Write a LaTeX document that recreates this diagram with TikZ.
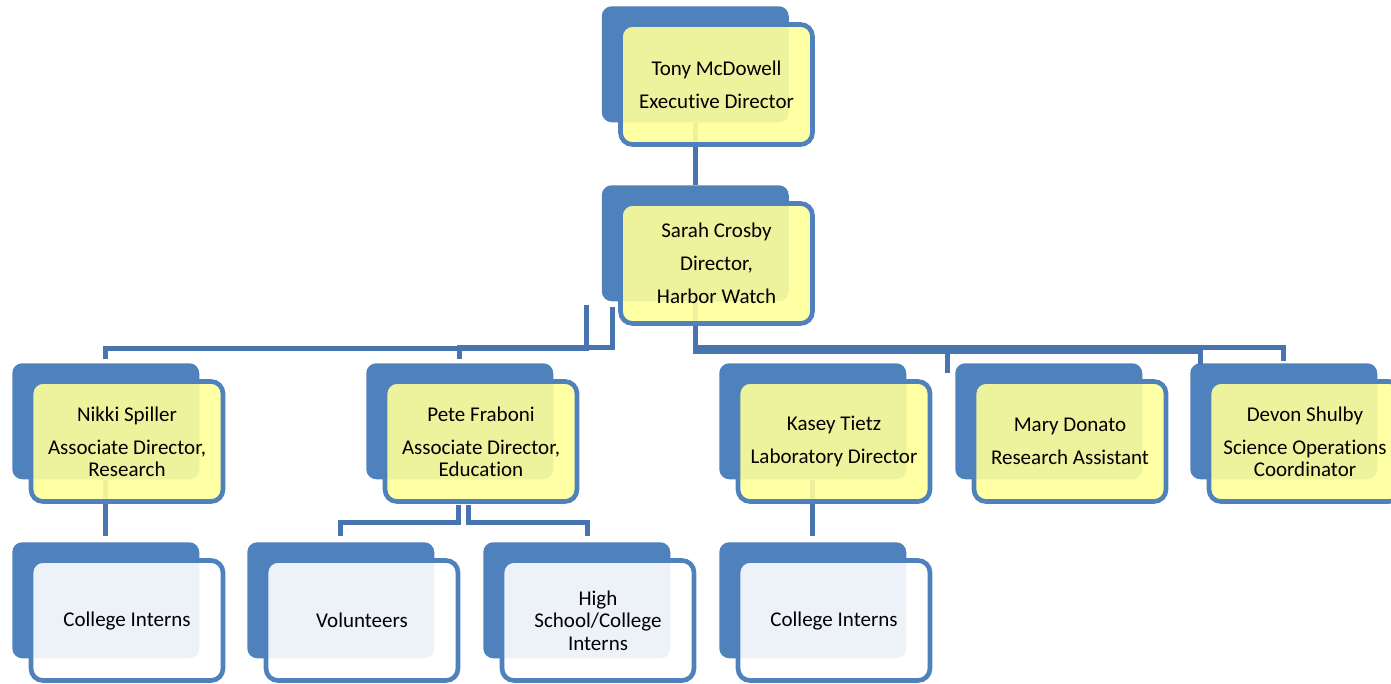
\documentclass[tikz,border=0pt]{standalone}
\usepackage{fontspec}
\setmainfont{Carlito}[Ligatures=NoCommon]
\definecolor{orgblue}{RGB}{79,129,189}
\definecolor{linkblue}{RGB}{72,117,175}
\definecolor{orgyellow}{RGB}{255,255,153}
\tikzset{
  backbox/.style={rectangle, rounded corners=7.5pt, fill=orgblue, minimum width=140.25pt,
    minimum height=87pt, inner sep=0pt, anchor=north west},
  frontbox/.style={rectangle, rounded corners=9pt, draw=orgblue, line width=3.5pt, fill=#1,
    fill opacity=0.9, text opacity=1, minimum width=144pt, minimum height=90pt, inner sep=0pt,
    align=center, font=\fontsize{15.75}{16.75}\selectfont},
  frontbox/.default=orgyellow,
  link/.style={draw=linkblue, line width=3.75pt}
}
\begin{document}
\begin{tikzpicture}[x=0.75pt,y=-0.75pt]
 \useasboundingbox (0,0) rectangle (1391,683);
 % blue back plates
 \foreach \n/\bx/\by in {tony/601.5/6,sarah/601.5/185,nikki/12/363,pete/366/363,kasey/719/363,
   mary/955/363,devon/1190/363,ci1/12/542,vol/247/542,hs/483/542,ci2/719/542}{%
   \node[backbox] (\n-bk) at (\bx,\by) {};
 }
 % connector ends
 \coordinate (sarahL1) at (586,305);
 \coordinate (sarahL2) at (612,307);
 \coordinate (kaseyin) at (947,373);
 \coordinate (maryin) at (1200,365);
 \coordinate (peteL1) at (458,505);
 \coordinate (peteL2) at (468,505);
 \coordinate (hsin) at (587,536);
 \draw[link] (tony-bk.south) -- (sarah-bk.north);
 \draw[link] (sarahL1) -- ++(0,43) -| ([yshift=3pt]nikki-bk.north);
 \draw[link] (sarahL2) -- ++(0,40) -| ([yshift=3pt]pete-bk.north);
 \draw[link] (sarah-bk.south) -- ++(0,46) -| ([yshift=1.5pt]devon-bk.north);
 \draw[link] (sarah-bk.south) -- ++(0,50) -| (maryin);
 \draw[link] (sarah-bk.south) -- ++(0,47) -| (kaseyin);
 \draw[link] (nikki-bk.south) -- ([yshift=4.5pt]ci1-bk.north);
 \draw[link] (peteL1) -- ++(0,17) -| ([yshift=4.5pt]vol-bk.north);
 \draw[link] (peteL2) -- ++(0,17) -| (hsin);
 \draw[link] (kasey-bk.south) -- ([yshift=4.5pt]ci2-bk.north);
 % front cards
 \foreach \n/\bx/\by/\fc/\txt in {%
   tony/601.5/6/orgyellow/{Tony McDowell\\[8pt]Executive Director},
   sarah/601.5/185/orgyellow/{Sarah Crosby\\[8pt]Director,\\[8pt]Harbor Watch},
   nikki/12/363/orgyellow/{Nikki Spiller\\[8pt]Associate Director,\\Research},
   pete/366/363/orgyellow/{Pete Fraboni\\[8pt]Associate Director,\\Education},
   kasey/719/363/orgyellow/{Kasey Tietz\\[8pt]Laboratory Director},
   mary/955/363/orgyellow/{Mary Donato\\[8pt]Research Assistant},
   devon/1190/363/orgyellow/{Devon Shulby\\[8pt]Science Operations\\Coordinator},
   ci1/12/542/white/{College Interns},
   vol/247/542/white/{Volunteers},
   hs/483/542/white/{High\\School/College\\Interns},
   ci2/719/542/white/{College Interns}}{%
   \node[frontbox=\fc] (\n) at (\bx+115,\by+78.5) {\txt};
 }
\end{tikzpicture}
\end{document}
